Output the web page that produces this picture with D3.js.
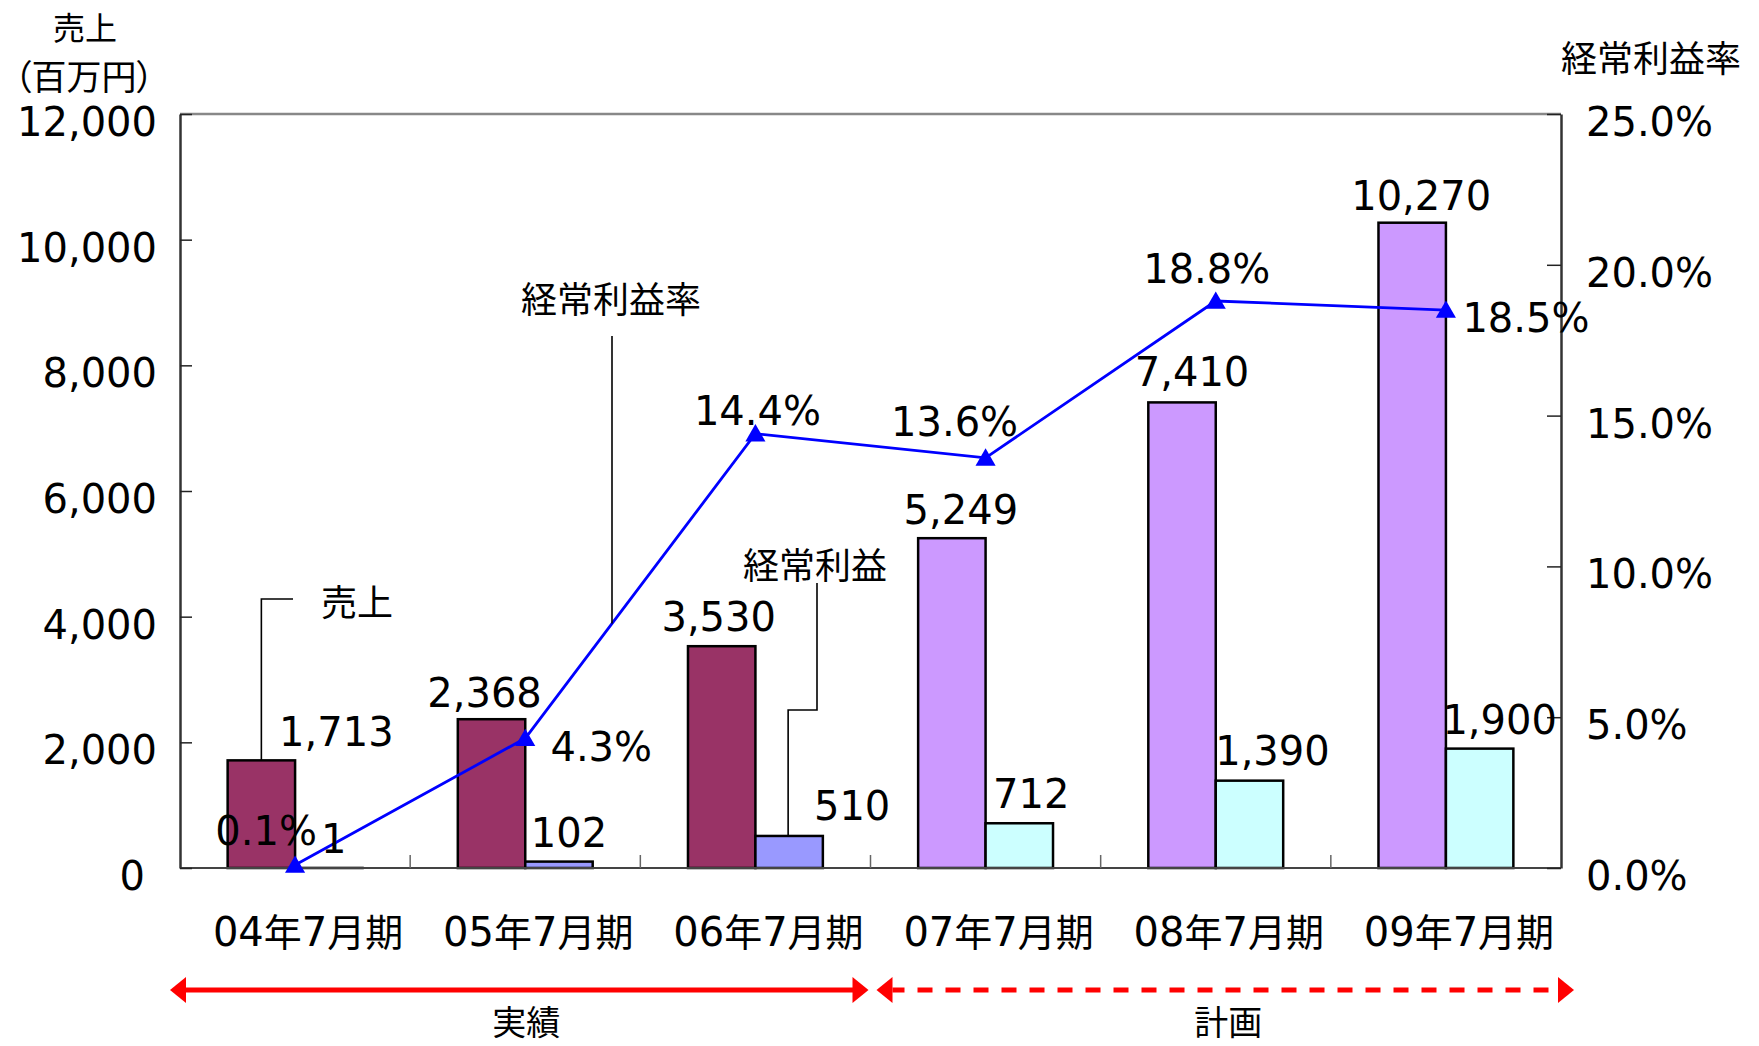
<!DOCTYPE html>
<html>
<head>
<meta charset="utf-8">
<script src="https://cdn.jsdelivr.net/npm/d3@7"></script>
<style>
  html, body { margin: 0; padding: 0; background: #fff; }
  svg { display: block; }
</style>
</head>
<body>
<svg id="chart" width="1759" height="1046"></svg>
<script>
// ---------------- data ----------------
const categories = ["04年7月期", "05年7月期", "06年7月期", "07年7月期", "08年7月期", "09年7月期"];
const sales  = [1713, 2368, 3530, 5249, 7410, 10270];   // 売上（百万円）
const profit = [1, 102, 510, 712, 1390, 1900];          // 経常利益
const ratio  = [0.1, 4.3, 14.4, 13.6, 18.8, 18.5];      // 経常利益率 (%)
const isPlan = [false, false, false, true, true, true]; // 実績 / 計画
const salesTicks = [0, 2000, 4000, 6000, 8000, 10000, 12000];
const ratioTicks = [0, 5, 10, 15, 20, 25];
const salesLabels  = ["1,713", "2,368", "3,530", "5,249", "7,410", "10,270"];
const profitLabels = ["1", "102", "510", "712", "1,390", "1,900"];
const ratioLabels  = ["0.1%", "4.3%", "14.4%", "13.6%", "18.8%", "18.5%"];

// label placement offsets (px) relative to their marks
const salesLabelOff  = [[75, -29], [-7, -27], [-3, -30], [9, -29], [10, -31], [9, -27]];
const profitLabelOff = [[5, -29], [10, -29], [63, -30], [12, -30], [23, -30], [20, -29]];
const ratioLabelOff  = [[-29, -34], [76, 8], [2, -23], [-31, -36], [-9, -32], [80, 7]];

// ---------------- styles ----------------
const colActualSales = "#993366", colActualProfit = "#9999FF";
const colPlanSales = "#CC99FF", colPlanProfit = "#CCFFFF";
const NUM_FONT = "DejaVu Sans", CJK_FONT = "Noto Sans CJK JP";
const NUM_SIZE = 40, CJK_SIZE = 37;

const svg = d3.select("#chart");
const L = 180, R = 1561, T = 114, B = 868;

const x = d3.scaleBand().domain(categories).range([L, R]).paddingInner(0).paddingOuter(0);
const yL = d3.scaleLinear().domain([0, 12000]).range([B, T]);
const yR = d3.scaleLinear().domain([0, 25]).range([B, T]);
const bw = x.bandwidth() * 0.293;
const cx = c => x(c) + x.bandwidth() / 2;

function mixed(sel, str, cjkSize) {
  const runs = str.match(/[\x00-\x7F]+|[^\x00-\x7F]+/g) || [];
  runs.forEach(r => {
    const ascii = /^[\x00-\x7F]+$/.test(r);
    sel.append("tspan").text(r)
      .attr("font-family", ascii ? NUM_FONT : CJK_FONT)
      .attr("font-size", ascii ? NUM_SIZE : (cjkSize || CJK_SIZE));
  });
  return sel;
}
// place text so that its visual centre is at (px, py)
function label(px, py, str, anchor, cjkSize) {
  const t = svg.append("text").attr("x", px).attr("y", py + 14.5)
    .attr("text-anchor", anchor || "middle").attr("fill", "#000");
  mixed(t, str, cjkSize);
  return t;
}

// ---------------- frame ----------------
svg.append("line").attr("x1", L).attr("x2", R).attr("y1", T).attr("y2", T)
  .attr("stroke", "#888").attr("stroke-width", 2.5);

// bars
const g = svg.append("g");
g.selectAll("rect.sales").data(categories).join("rect")
  .attr("x", c => cx(c) - bw).attr("width", bw)
  .attr("y", (c, i) => yL(sales[i])).attr("height", (c, i) => B - yL(sales[i]))
  .attr("fill", (c, i) => isPlan[i] ? colPlanSales : colActualSales)
  .attr("stroke", "#000").attr("stroke-width", 2.5);
g.selectAll("rect.profit").data(categories).join("rect")
  .attr("x", c => cx(c)).attr("width", bw)
  .attr("y", (c, i) => yL(profit[i])).attr("height", (c, i) => B - yL(profit[i]))
  .attr("fill", (c, i) => isPlan[i] ? colPlanProfit : colActualProfit)
  .attr("stroke", "#000").attr("stroke-width", 2.5);

// bottom axis line and boundary ticks
svg.append("line").attr("x1", L).attr("x2", R).attr("y1", B).attr("y2", B)
  .attr("stroke", "#444").attr("stroke-width", 2);
categories.slice(1).forEach(c => {
  svg.append("line").attr("x1", x(c)).attr("x2", x(c)).attr("y1", B).attr("y2", B - 13)
    .attr("stroke", "#666").attr("stroke-width", 1.5);
});

// left axis
const axL = svg.append("g").attr("transform", `translate(${L},0)`)
  .call(d3.axisLeft(yL).tickValues(salesTicks).tickSizeInner(-12).tickSizeOuter(0)
    .tickPadding(23).tickFormat(d3.format(",")));
axL.select(".domain").attr("stroke", "#333").attr("stroke-width", 2.5);
axL.selectAll(".tick line").attr("stroke", "#222").attr("stroke-width", 1.5);
axL.selectAll(".tick text").attr("font-family", NUM_FONT).attr("font-size", NUM_SIZE)
  .attr("fill", "#000").attr("dy", null).attr("y", 21.5)
  .attr("dx", d => d === 0 ? -12 : 0);

// right axis
const axR = svg.append("g").attr("transform", `translate(${R},0)`)
  .call(d3.axisRight(yR).tickValues(ratioTicks).tickSizeInner(-14).tickSizeOuter(0)
    .tickPadding(25).tickFormat(d => d3.format(".1f")(d) + "%"));
axR.select(".domain").attr("stroke", "#333").attr("stroke-width", 2.5);
axR.selectAll(".tick line").attr("stroke", "#222").attr("stroke-width", 1.5);
axR.selectAll(".tick text").attr("font-family", NUM_FONT).attr("font-size", NUM_SIZE)
  .attr("fill", "#000").attr("dy", null).attr("y", 21.5);

// ratio line
const line = d3.line().x((c) => cx(c)).y((c, i) => yR(ratio[i]));
svg.append("path").datum(categories).attr("d", line)
  .attr("fill", "none").attr("stroke", "#0000FF").attr("stroke-width", 2.8);
svg.selectAll("path.marker").data(categories).join("path")
  .attr("transform", (c, i) => `translate(${cx(c)},${yR(ratio[i]) + 2})`)
  .attr("d", d3.symbol(d3.symbolTriangle, 175))
  .attr("fill", "#0000FF");

// data labels
categories.forEach((c, i) => {
  label(cx(c) - bw / 2 + salesLabelOff[i][0], yL(sales[i]) + salesLabelOff[i][1], salesLabels[i]);
  label(cx(c) + bw / 2 + profitLabelOff[i][0], yL(profit[i]) + profitLabelOff[i][1], profitLabels[i]);
  label(cx(c) + ratioLabelOff[i][0], yR(ratio[i]) + ratioLabelOff[i][1], ratioLabels[i]);
});

// category labels
categories.forEach(c => label(cx(c) + 13, 931, c, "middle", 38));

// axis titles
svg.append("text").attr("x", 85).attr("y", 40).attr("text-anchor", "middle").attr("fill", "#000")
  .attr("font-family", CJK_FONT).attr("font-size", 32).text("売上");
svg.append("text").attr("x", 84).attr("y", 90).attr("text-anchor", "middle").attr("fill", "#000")
  .attr("font-family", CJK_FONT).attr("font-size", 35).style("font-feature-settings", "'palt'")
  .text("（百万円）");
label(1651, 57, "経常利益率", "middle", 36);

// series call-outs
const leader = (d) => svg.append("path").attr("d", d).attr("fill", "none")
  .attr("stroke", "#000").attr("stroke-width", 1.6);
{
  const bx = cx(categories[0]) - bw / 2;
  leader(`M293,599H${bx}V${yL(sales[0])}`);
  label(357, 601, "売上", "middle", 36);
}
{
  // point on ratio line between categories 1 and 2
  const lx = 612;
  const x1 = cx(categories[1]), x2 = cx(categories[2]);
  const t = (lx - x1) / (x2 - x1);
  const ly = yR(ratio[1]) + t * (yR(ratio[2]) - yR(ratio[1]));
  leader(`M${lx},336V${ly}`);
  label(611, 298, "経常利益率", "middle", 36);
}
{
  const px = cx(categories[2]) + bw / 2 - 1;
  leader(`M817,583V710H${px}V${yL(profit[2])}`);
  label(815, 564, "経常利益", "middle", 36);
}

// actual / plan arrows
const ay = 990;
const aL1 = L - 10, aR1 = x(categories[3]) - 2, aL2 = x(categories[3]) + 6, aR2 = R + 13;
svg.append("line").attr("x1", aL1 + 14).attr("x2", aR1 - 14).attr("y1", ay).attr("y2", ay)
  .attr("stroke", "#FF0000").attr("stroke-width", 5);
svg.append("line").attr("x1", aL2 + 16).attr("x2", aR2 - 16).attr("y1", ay).attr("y2", ay)
  .attr("stroke", "#FF0000").attr("stroke-width", 5)
  .attr("stroke-dasharray", "15,13").attr("stroke-dashoffset", 3);
const head = (tip, dir) => svg.append("path")
  .attr("d", `M${tip},${ay}L${tip + dir * 16},${ay - 13}L${tip + dir * 16},${ay + 13}Z`)
  .attr("fill", "#FF0000");
head(aL1, 1); head(aR1, -1); head(aL2, 1); head(aR2, -1);
label((aL1 + aR1) / 2 + 7, 1020, "実績", "middle", 34);
label((aL2 + aR2) / 2 + 3, 1020, "計画", "middle", 34);
</script>
</body>
</html>
